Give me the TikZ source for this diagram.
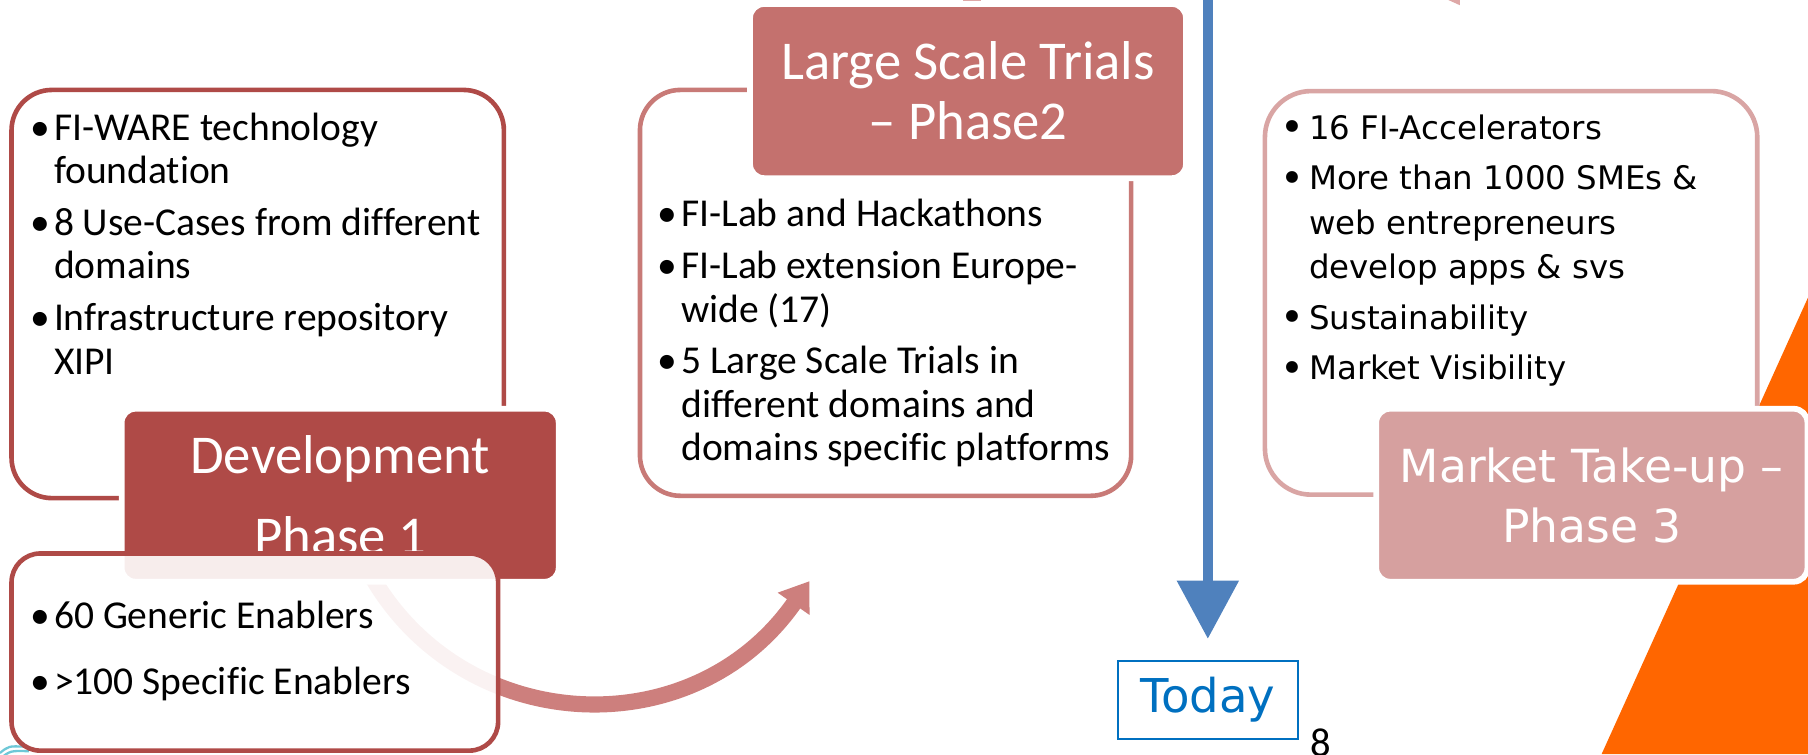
\documentclass[tikz,border=0pt]{standalone}
\usepackage{fontspec}
\setmainfont{Carlito}[Ligatures=NoCommon]
\newfontfamily\verdana{DejaVu Sans}
\usetikzlibrary{arrows.meta}

\definecolor{devred}{RGB}{175,74,71}
\definecolor{trialred}{RGB}{196,113,110}
\definecolor{trialline}{RGB}{200,122,119}
\definecolor{marketpink}{RGB}{214,160,159}
\definecolor{marketline}{RGB}{217,165,164}
\definecolor{flowred}{RGB}{205,127,125}
\definecolor{stubpink}{RGB}{222,168,167}
\definecolor{todayline}{RGB}{79,129,189}
\definecolor{todayblue}{RGB}{0,112,192}
\definecolor{cornerorange}{RGB}{255,102,0}
\definecolor{logoteal}{RGB}{110,200,215}

\newcommand{\marketdot}{\raisebox{-1.2pt}{\fontsize{20}{0}\selectfont\textbullet}}

\begin{document}
\begin{tikzpicture}[
     panel/.style={draw, line width=0.8mm, rounded corners=7mm, fill=white, inner sep=0pt},
     phase/.style={draw=white, line width=1mm, rounded corners=2.4mm, text=white, align=center, inner sep=0pt},
     blurb/.style={anchor=base west, inner sep=0pt, font=\fontsize{19.5}{21.45}\selectfont},
     flow/.style={line width=2.8mm, color=flowred, -{Triangle[width=6.4mm, length=4.8mm]}}]
     \useasboundingbox (0,0) rectangle (31.36,13.08);

     \fill[cornerorange] (27.78,0) -- (31.36,7.92) -- (31.36,0) -- cycle;
     \draw[logoteal, line width=0.4mm] (0,0.02) .. controls (0.15,0.14) .. (0.42,0.13);
     \draw[logoteal, line width=0.4mm] (0,-0.08) .. controls (0.18,0.06) .. (0.5,0.05);

     % phase 1
     \node[panel, draw=devred, minimum width=8.54cm, minimum height=7.08cm] (devnotes) at (4.47,7.98) {};
     \coordinate (flowstart) at (6.38,3.2);
     \coordinate (flowend) at (14.04,3.0);
     \draw[flow] (flowstart) .. controls (7.95,0.3) and (12.0,0.08) .. (flowend);
     \node[phase, fill=devred, minimum width=7.58cm, minimum height=3cm, font=\fontsize{27}{39.8}\selectfont] (dev) at (5.9,4.49) {Development\\Phase 1};
     \node[panel, draw=devred, rounded corners=5mm, fill opacity=0.9, minimum width=8.44cm, minimum height=3.42cm] (enablers) at (4.42,1.77) {};

     % phase 2
     \node[panel, draw=trialline, minimum width=8.52cm, minimum height=7.04cm] (trialnotes) at (15.36,8.0) {};
     \fill[stubpink] (16.7,12.9) rectangle (17.02,13.2);
     \node[phase, fill=trialred, minimum width=7.56cm, minimum height=3.02cm, font=\fontsize{27}{29.6}\selectfont] (trials) at (16.79,11.5) {Large Scale Trials\\– Phase2};

     % today
     \coordinate (sky) at (20.95,13.3);
     \node[draw=todayblue, line width=0.35mm, text=todayblue, minimum width=3.12cm, minimum height=1.36cm, inner sep=0pt, font=\verdana\fontsize{23}{27}\selectfont] (today) at (20.95,0.94) {Today};
     \draw[line width=1.8mm, color=todayline, -{Triangle[width=10.3mm, length=10.1mm]}] (sky) -- ([yshift=3.6mm]today.north);

     % phase 3
     \node[panel, draw=marketline, rounded corners=8mm, minimum width=8.54cm, minimum height=7cm] (marketnotes) at (26.21,8.0) {};
     \fill[stubpink] (25.12,13.08) -- (25.32,13.08) -- (25.32,12.99) -- cycle;
     \node[phase, fill=marketpink, minimum width=7.48cm, minimum height=3cm, font=\verdana\fontsize{22.5}{29.6}\selectfont] (market) at (27.61,4.49) {Market Take-up –\\Phase 3};

     \node[anchor=base, inner sep=0pt, font=\fontsize{20}{24}\selectfont] (page) at (22.9,-0.05) {8};

     \node[blurb] (devtext) at (0.52,10.65) {\begin{tabular}[t]{@{}p{4.1mm}@{}l@{}}
          \textbullet & FI-WARE technology\\ & foundation\\[4.2pt]
          \textbullet & 8 Use-Cases from different\\ & domains\\[4.2pt]
          \textbullet & Infrastructure repository\\ & XIPI
     \end{tabular}};
     \node[blurb] (enablertext) at (0.52,2.17) {\begin{tabular}[t]{@{}p{4.1mm}@{}l@{}}
          \textbullet & 60 Generic Enablers\\[11pt]
          \textbullet & >100 Specific Enablers
     \end{tabular}};
     \node[blurb] (trialtext) at (11.40,9.15) {\begin{tabular}[t]{@{}p{4.1mm}@{}l@{}}
          \textbullet & FI-Lab and Hackathons\\[4.2pt]
          \textbullet & FI-Lab extension Europe-\\ & wide (17)\\[4.2pt]
          \textbullet & 5 Large Scale Trials in\\ & different domains and\\ & domains specific platforms
     \end{tabular}};
     \node[blurb, font=\verdana\fontsize{16}{21.9}\selectfont] (markettext) at (22.20,10.66) {\begin{tabular}[t]{@{}p{5mm}@{}l@{}}
          \marketdot & 16 FI-Accelerators\\[3pt]
          \marketdot & More than 1000 SMEs \&\\ & web entrepreneurs\\ & develop apps \& svs\\[3pt]
          \marketdot & Sustainability\\[3pt]
          \marketdot & Market Visibility
     \end{tabular}};
   \end{tikzpicture}
\end{document}
